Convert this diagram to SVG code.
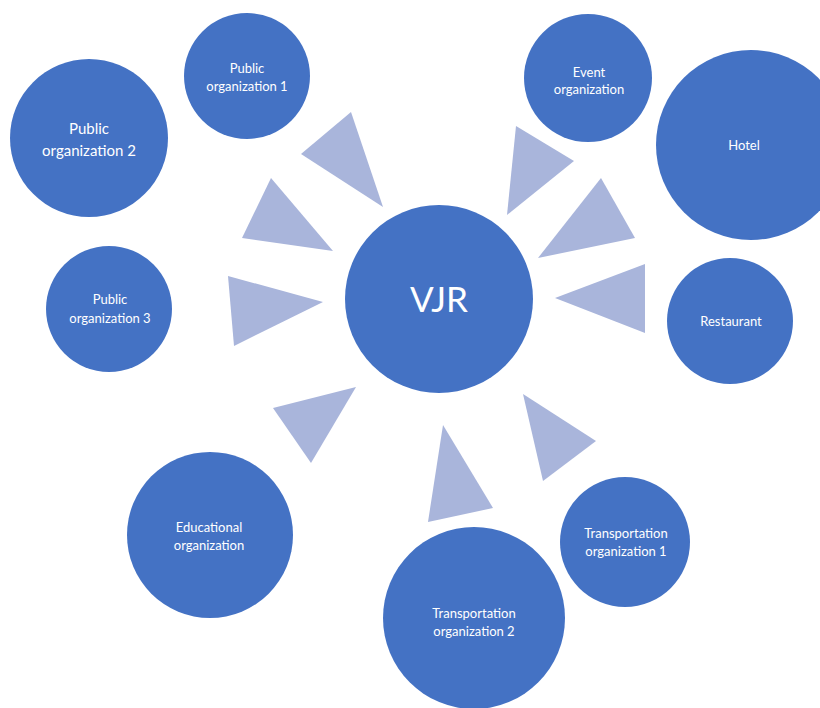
<svg xmlns="http://www.w3.org/2000/svg" width="820" height="708" viewBox="0 0 820 708">
  <style>
    .node { fill: #4472C4; }
    .arrow { fill: #A9B5DB; }
    text { fill: #FFFFFF; font-family: Lato, "Open Sans", "Liberation Sans", sans-serif; text-anchor: middle; dominant-baseline: central; }
    .s { font-size: 13px; }
    .m { font-size: 15px; }
    .l { font-size: 35px; }
  </style>
  <rect width="820" height="708" fill="#FFFFFF"/>

  <g id="connectors">
    <polygon class="arrow" points="351,112 301,154 383,207"/>
    <polygon class="arrow" points="271,178 242,238 333,251"/>
    <polygon class="arrow" points="228,276 234,346 323,302"/>
    <polygon class="arrow" points="273,408 356,387 311,463"/>
    <polygon class="arrow" points="443,425 428,522 493,508"/>
    <polygon class="arrow" points="523,394 596,441 543,481"/>
    <polygon class="arrow" points="516,126 574,161 507,215"/>
    <polygon class="arrow" points="601,178 635,238 538,258"/>
    <polygon class="arrow" points="645,264 555,298 645,333"/>
  </g>

  <g id="vjr">
    <circle class="node" cx="439" cy="299" r="94"/>
    <text class="l" x="439" y="298">VJR</text>
  </g>
  <g id="public-organization-1">
    <circle class="node" cx="247" cy="76" r="63"/>
    <text class="s" x="247" y="68">Public</text>
    <text class="s" x="247" y="86">organization 1</text>
  </g>
  <g id="public-organization-2">
    <circle class="node" cx="89" cy="138" r="79"/>
    <text class="m" x="89" y="128">Public</text>
    <text class="m" x="89" y="150">organization 2</text>
  </g>
  <g id="public-organization-3">
    <circle class="node" cx="109" cy="309" r="63"/>
    <text class="s" x="110" y="299">Public</text>
    <text class="s" x="110" y="318">organization 3</text>
  </g>
  <g id="educational-organization">
    <circle class="node" cx="210" cy="535" r="83"/>
    <text class="s" x="209" y="527">Educational</text>
    <text class="s" x="209" y="545">organization</text>
  </g>
  <g id="transportation-organization-2">
    <circle class="node" cx="474" cy="618" r="91"/>
    <text class="s" x="474" y="613">Transportation</text>
    <text class="s" x="474" y="631">organization 2</text>
  </g>
  <g id="transportation-organization-1">
    <circle class="node" cx="625" cy="542" r="65"/>
    <text class="s" x="626" y="533">Transportation</text>
    <text class="s" x="626" y="551">organization 1</text>
  </g>
  <g id="restaurant">
    <circle class="node" cx="730" cy="321" r="63"/>
    <text class="s" x="731" y="321">Restaurant</text>
  </g>
  <g id="hotel">
    <circle class="node" cx="751" cy="145" r="95"/>
    <text class="s" x="744" y="145">Hotel</text>
  </g>
  <g id="event-organization">
    <circle class="node" cx="588" cy="78" r="64"/>
    <text class="s" x="589" y="72">Event</text>
    <text class="s" x="589" y="89">organization</text>
  </g>
</svg>
